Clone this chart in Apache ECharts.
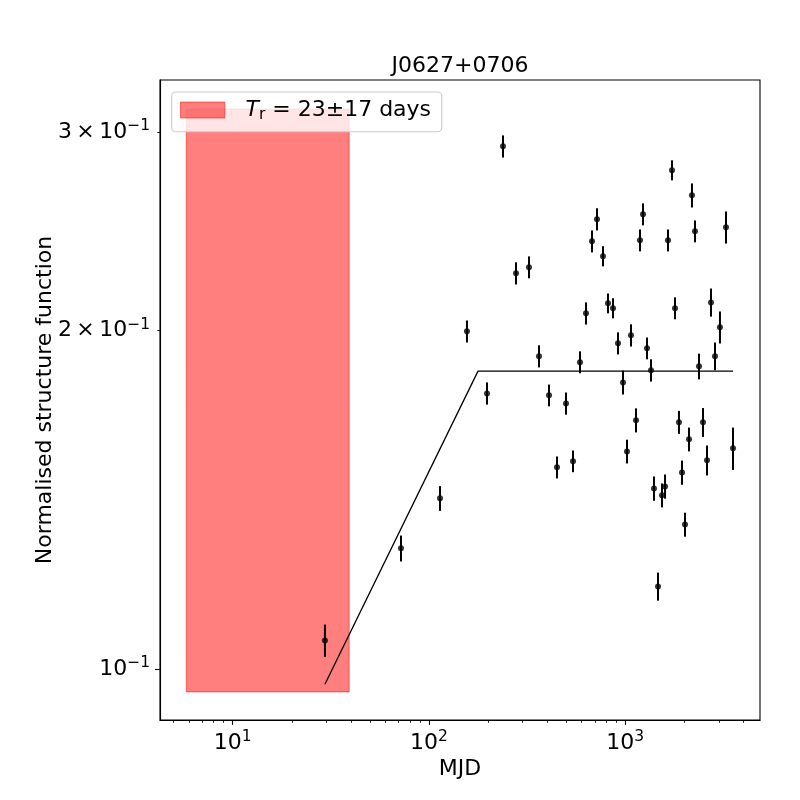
<!DOCTYPE html>
<html>
<head>
<meta charset="utf-8">
<script src="https://cdn.jsdelivr.net/npm/echarts@6/dist/echarts.min.js"></script>
<style>html,body{margin:0;padding:0;background:#fff;}#chart{width:800px;height:800px;}</style>
</head>
<body>
<div id="chart"></div>
<script>
// ---- data ----
const lags = [29.5, 72.0, 113.8, 156.1, 197.5, 238.2, 277.5, 323.1, 363.4, 408.7,
  448.8, 498.9, 541.6, 587.8, 630.6, 676.8, 717.6, 769.9, 816.6, 865.9,
  918.2, 973.4, 1020, 1069, 1134, 1188, 1231, 1290, 1352, 1400,
  1468, 1538, 1594, 1650, 1730, 1792, 1877, 1945, 2015, 2112,
  2186, 2265, 2374, 2488, 2608, 2733, 2864, 3036, 3258, 3538];
const sf = [0.1061, 0.1281, 0.1419, 0.1997, 0.1759, 0.2916, 0.2249, 0.2277, 0.1898, 0.1752,
  0.1512, 0.1723, 0.1531, 0.1875, 0.2072, 0.2401, 0.2512, 0.2329, 0.2115, 0.2094,
  0.1949, 0.1799, 0.1562, 0.1981, 0.1665, 0.2406, 0.2538, 0.1929, 0.1844, 0.1448,
  0.1185, 0.1428, 0.1454, 0.2406, 0.2777, 0.2094, 0.1658, 0.1496, 0.1345, 0.1601,
  0.2638, 0.2451, 0.1859, 0.1658, 0.1534, 0.2119, 0.1898, 0.2014, 0.2471, 0.1572];
const sfErr = [0.0035, 0.0034, 0.0036, 0.0045, 0.0040, 0.0066, 0.0051, 0.0051, 0.0043, 0.0039,
  0.0034, 0.0039, 0.0034, 0.0042, 0.0047, 0.0054, 0.0057, 0.0048, 0.0043, 0.0043,
  0.0044, 0.0044, 0.0038, 0.0045, 0.0041, 0.0054, 0.0057, 0.0043, 0.0042, 0.0036,
  0.0034, 0.0035, 0.0036, 0.0054, 0.0057, 0.0047, 0.0039, 0.0037, 0.0033, 0.0039,
  0.0065, 0.0055, 0.0049, 0.0049, 0.0047, 0.0061, 0.0054, 0.0066, 0.0081, 0.0068];
const fitLag = [29.5, 177.7, 3538];
const fitSF = [0.0970, 0.1841, 0.1841];
const trLagRange = [5.8, 39.2];
const trSFRange = [0.0955, 0.3147];
const trValue = '23', trErr = '17';
const titleText = 'J0627+0706';
const xName = 'MJD';
const yName = 'Normalised structure function';
const xRange = [4.262, 4856];
const yRange = [0.09016, 0.3340];
const xMajorTicks = [10, 100, 1000];
const xMajorExp = ['1', '2', '3'];
const xMinorTicks = [5, 6, 7, 8, 9, 20, 30, 40, 50, 60, 70, 80, 90, 200, 300, 400, 500, 600, 700, 800, 900, 2000, 3000, 4000];
const yMajorTicks = [0.1];
const yMinorTicks = [0.2, 0.3];
const yLabelTicks = [0.1, 0.2, 0.3];
const yLabelMant = ['', '2\u2009×\u2009', '3\u2009×\u2009'];
const yLabelExp = ['−1', '−1', '−1'];

// ---- build chart ----
const L = Math.log10;
const FONT = 'DejaVu Sans';
const supRich = {
  b: { fontSize: 22, lineHeight: 28, fontFamily: FONT, color: '#000' },
  sup: { fontSize: 15.5, lineHeight: 16, verticalAlign: 'top', fontFamily: FONT, color: '#000' }
};
function nearestIdx(arr, v) {
  let bi = 0, bd = Infinity;
  arr.forEach((a, i) => { const d = Math.abs(L(a) - v); if (d < bd) { bd = d; bi = i; } });
  return bi;
}
const chart = echarts.init(document.getElementById('chart'), null, { renderer: 'canvas' });

const pts = lags.map((l, i) => [L(l), L(sf[i])]);
const errs = lags.map((l, i) => [L(l), L(sf[i] - sfErr[i]), L(sf[i] + sfErr[i])]);
const fit = fitLag.map((l, i) => [L(l), L(fitSF[i])]);
const box = [[L(trLagRange[0]), L(trLagRange[1]), L(trSFRange[0]), L(trSFRange[1])]];

const axisCommonX = {
  type: 'value', min: L(xRange[0]), max: L(xRange[1]), splitLine: { show: false }
};
const axisCommonY = {
  type: 'value', min: L(yRange[0]), max: L(yRange[1]), splitLine: { show: false }
};

const option = {
  backgroundColor: '#fff',
  animation: false,
  title: {
    text: titleText, left: 460, top: 55, textAlign: 'center', padding: 0,
    textStyle: { fontFamily: FONT, fontSize: 22, fontWeight: 'normal', color: '#000' }
  },
  grid: { left: 160, right: 40, top: 80, bottom: 80, show: true, borderColor: '#000', borderWidth: 1.1, backgroundColor: 'transparent' },
  legend: {
    left: 171.7, top: 92, orient: 'horizontal',
    padding: [7, 10.7, 8.75, 8.3],
    backgroundColor: 'rgba(255,255,255,0.8)', borderColor: '#cccccc', borderWidth: 1.1, borderRadius: 4,
    itemWidth: 44.3, itemHeight: 16,
    data: [{ name: 'tr', icon: 'rect' }],
    itemStyle: { color: 'rgba(255,0,0,0.5)', borderColor: 'rgba(255,0,0,0.5)', borderWidth: 1 },
    formatter: () => `{t|T}{s|r}{n| = ${trValue}±${trErr} days}`,
    textStyle: {
      fontFamily: FONT, fontSize: 22, color: '#000',
      rich: {
        t: { fontFamily: FONT, fontSize: 22, fontStyle: 'italic', lineHeight: 26, padding: [0, 0, 0, 15.7], color: '#000' },
        s: { fontFamily: FONT, fontSize: 15.5, lineHeight: 13, verticalAlign: 'bottom', color: '#000' },
        n: { fontFamily: FONT, fontSize: 22, lineHeight: 26, color: '#000' }
      }
    }
  },
  xAxis: [
    Object.assign({}, axisCommonX, {
      position: 'bottom',
      name: xName, nameLocation: 'middle', nameGap: 38, nameMoveOverlap: false,
      nameTextStyle: { fontFamily: FONT, fontSize: 22, color: '#000' },
      axisLine: { show: true, lineStyle: { color: '#000', width: 1.1 } },
      axisTick: { show: true, length: 4.9, lineStyle: { color: '#000', width: 1.1 }, customValues: xMajorTicks.map(L) },
      axisLabel: {
        show: true, margin: 9, customValues: xMajorTicks.map(L),
        formatter: v => `{b|10}{sup|${xMajorExp[nearestIdx(xMajorTicks, v)]}}`,
        rich: supRich
      }
    }),
    Object.assign({}, axisCommonX, {
      position: 'bottom',
      axisLine: { show: false },
      axisTick: { show: true, length: 2.8, lineStyle: { color: '#000', width: 0.85 }, customValues: xMinorTicks.map(L) },
      axisLabel: { show: false }
    })
  ],
  yAxis: [
    Object.assign({}, axisCommonY, {
      position: 'left',
      name: yName, nameLocation: 'middle', nameGap: 104, nameRotate: 90, nameMoveOverlap: false,
      nameTextStyle: { fontFamily: FONT, fontSize: 22, color: '#000' },
      axisLine: { show: true, lineStyle: { color: '#000', width: 1.1 } },
      axisTick: { show: true, length: 4.9, lineStyle: { color: '#000', width: 1.1 }, customValues: yMajorTicks.map(L) },
      axisLabel: {
        show: true, margin: 10, customValues: yLabelTicks.map(L),
        formatter: v => { const i = nearestIdx(yLabelTicks, v); return `{b|${yLabelMant[i]}10}{sup|${yLabelExp[i]}}`; },
        rich: supRich
      }
    }),
    Object.assign({}, axisCommonY, {
      position: 'left',
      axisLine: { show: false },
      axisTick: { show: true, length: 2.8, lineStyle: { color: '#000', width: 0.85 }, customValues: yMinorTicks.map(L) },
      axisLabel: { show: false }
    })
  ],
  series: [
    {
      name: 'tr', type: 'custom', xAxisIndex: 0, yAxisIndex: 0, z: 1, clip: true,
      itemStyle: { color: 'rgba(255,0,0,0.5)' },
      data: box,
      encode: { x: [0, 1], y: [2, 3] },
      renderItem: (params, api) => {
        const p1 = api.coord([api.value(0), api.value(3)]);
        const p2 = api.coord([api.value(1), api.value(2)]);
        return {
          type: 'rect',
          shape: { x: p1[0], y: p1[1], width: p2[0] - p1[0], height: p2[1] - p1[1] },
          style: { fill: 'rgba(255,0,0,0.5)', stroke: 'rgba(255,0,0,0.5)', lineWidth: 1 }
        };
      }
    },
    {
      name: 'fit', type: 'line', xAxisIndex: 0, yAxisIndex: 0, z: 3,
      data: fit, symbol: 'none', lineStyle: { color: '#000', width: 1.3 }, silent: true
    },
    {
      name: 'err', type: 'custom', xAxisIndex: 0, yAxisIndex: 0, z: 4,
      data: errs, encode: { x: 0, y: [1, 2] },
      renderItem: (params, api) => {
        const p1 = api.coord([api.value(0), api.value(1)]);
        const p2 = api.coord([api.value(0), api.value(2)]);
        return {
          type: 'line',
          shape: { x1: p1[0], y1: p1[1], x2: p2[0], y2: p2[1] },
          style: { stroke: '#000', lineWidth: 2 }
        };
      }
    },
    {
      name: 'sf', type: 'scatter', xAxisIndex: 0, yAxisIndex: 0, z: 5,
      data: pts, symbol: 'circle', symbolSize: 6, itemStyle: { color: '#000' }
    }
  ]
};
chart.setOption(option);
</script>
</body>
</html>
